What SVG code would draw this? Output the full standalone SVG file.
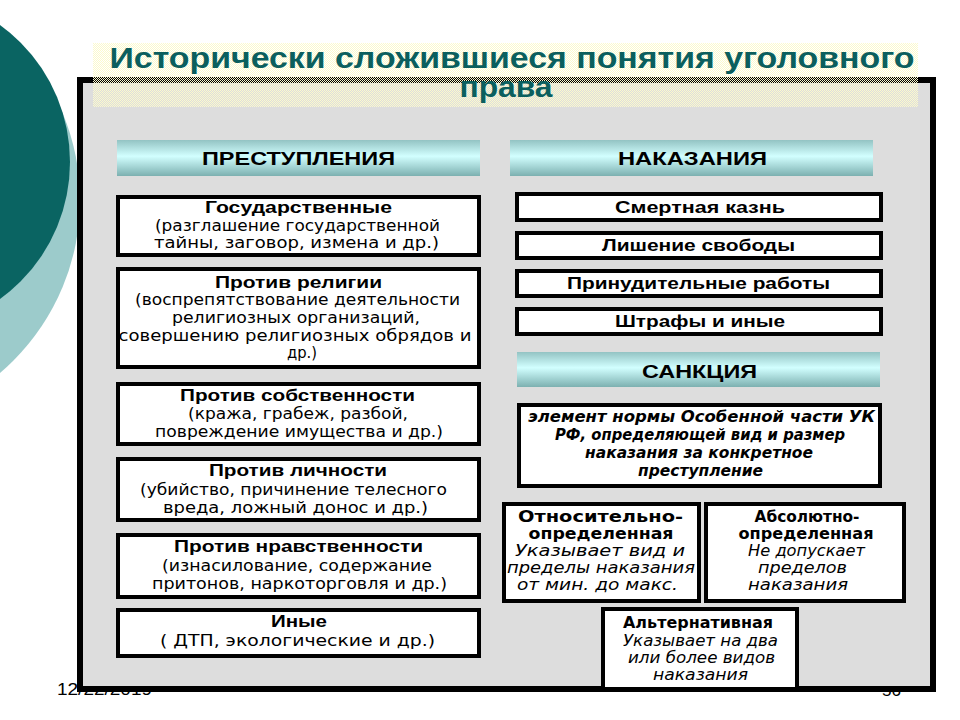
<svg xmlns="http://www.w3.org/2000/svg" width="960" height="720" viewBox="0 0 960 720">
<style>
.box{fill:#fff;stroke:#000;stroke-width:4}
.bar{fill:url(#barGrad)}
.h{font-family:"Liberation Sans",Arial,sans-serif;font-weight:900;font-size:18px;text-anchor:middle;fill:#000}
.t{font-family:"Liberation Sans",Arial,sans-serif;font-weight:bold;font-size:16px;text-anchor:middle;fill:#000}
.b{font-family:"DejaVu Sans",Verdana,sans-serif;font-size:15px;text-anchor:middle;fill:#000}
.bi{font-family:"DejaVu Sans",Verdana,sans-serif;font-size:15px;font-style:italic;text-anchor:middle;fill:#000}
.bbi{font-family:"DejaVu Sans",Verdana,sans-serif;font-size:15px;font-style:italic;font-weight:bold;text-anchor:middle;fill:#000}
.bb{font-family:"DejaVu Sans",Verdana,sans-serif;font-size:15px;font-weight:bold;text-anchor:middle;fill:#000}
.title{font-family:"Liberation Sans Narrow","Liberation Sans",Arial,sans-serif;font-weight:bold;font-size:30px;text-anchor:middle;fill:#0b5f5e}
.foot{font-family:"Liberation Sans Narrow","Liberation Sans",Arial,sans-serif;font-size:16px;fill:#000}
</style>
<defs>
<linearGradient id="barGrad" x1="0" y1="0" x2="0" y2="1">
<stop offset="0" stop-color="#93c3c3"/>
<stop offset="0.45" stop-color="#d2ffff"/>
<stop offset="1" stop-color="#7cb0b0"/>
</linearGradient>
<pattern id="check" width="2" height="2" patternUnits="userSpaceOnUse">
<rect x="0" y="0" width="1" height="1" fill="#fcfacc"/>
<rect x="1" y="1" width="1" height="1" fill="#fcfacc"/>
</pattern>
</defs>
<rect width="960" height="720" fill="#fff"/>
<g id="decor">
<circle cx="-147" cy="200" r="227" fill="#9ccbcb"/>
<circle cx="-99" cy="162" r="169" fill="#0a6462"/>
</g>
<text class="foot" x="57" y="695" textLength="95" lengthAdjust="spacingAndGlyphs">12/22/2019</text>
<text class="foot" x="882" y="696" textLength="19" lengthAdjust="spacingAndGlyphs">56</text>
<g id="frame">
<rect x="80" y="80" width="853" height="609" fill="#dddddd" stroke="#000" stroke-width="6"/>
</g>
<g id="title">
<rect x="93" y="43" width="825" height="64" fill="url(#check)"/>
<text class="title" x="512" y="68" textLength="805" lengthAdjust="spacingAndGlyphs">Исторически сложившиеся понятия уголовного</text>
<text class="title" x="506" y="97" textLength="93" lengthAdjust="spacingAndGlyphs">права</text>
</g>
<g id="connectors"></g>
<g id="crimes-header">
<rect class="bar" x="117" y="140" width="363" height="36"/>
<text class="h" x="298.5" y="165" textLength="193" lengthAdjust="spacingAndGlyphs">ПРЕСТУПЛЕНИЯ</text>
</g>
<g id="crime-state">
<rect class="box" x="118" y="197" width="361" height="58"/>
<text class="t" x="298.5" y="213" textLength="187" lengthAdjust="spacingAndGlyphs">Государственные</text>
<text class="b" x="297.5" y="231" textLength="285" lengthAdjust="spacingAndGlyphs">(разглашение государственной</text>
<text class="b" x="296.5" y="248" textLength="285" lengthAdjust="spacingAndGlyphs">тайны, заговор, измена и др.)</text>
</g>
<g id="crime-religion">
<rect class="box" x="118" y="269" width="361" height="98"/>
<text class="t" x="298.5" y="288" textLength="167" lengthAdjust="spacingAndGlyphs">Против религии</text>
<text class="b" x="297.5" y="305" textLength="325" lengthAdjust="spacingAndGlyphs">(воспрепятствование деятельности</text>
<text class="b" x="296" y="323" textLength="248" lengthAdjust="spacingAndGlyphs">религиозных организаций,</text>
<text class="b" x="295" y="341" textLength="353" lengthAdjust="spacingAndGlyphs">совершению религиозных обрядов и</text>
<text class="b" x="302" y="358" textLength="30" lengthAdjust="spacingAndGlyphs">др.)</text>
</g>
<g id="crime-property">
<rect class="box" x="118" y="384" width="361" height="60"/>
<text class="t" x="297.5" y="401" textLength="235" lengthAdjust="spacingAndGlyphs">Против собственности</text>
<text class="b" x="298" y="419" textLength="220" lengthAdjust="spacingAndGlyphs">(кража, грабеж, разбой,</text>
<text class="b" x="299" y="437" textLength="288" lengthAdjust="spacingAndGlyphs">повреждение имущества и др.)</text>
</g>
<g id="crime-person">
<rect class="box" x="118" y="459" width="361" height="61"/>
<text class="t" x="298" y="476" textLength="178" lengthAdjust="spacingAndGlyphs">Против личности</text>
<text class="b" x="293.5" y="495" textLength="307" lengthAdjust="spacingAndGlyphs">(убийство, причинение телесного</text>
<text class="b" x="295.5" y="513" textLength="265" lengthAdjust="spacingAndGlyphs">вреда, ложный донос и др.)</text>
</g>
<g id="crime-morality">
<rect class="box" x="118" y="535" width="361" height="62"/>
<text class="t" x="298.5" y="552" textLength="249" lengthAdjust="spacingAndGlyphs">Против нравственности</text>
<text class="b" x="297" y="571" textLength="270" lengthAdjust="spacingAndGlyphs">(изнасилование, содержание</text>
<text class="b" x="299.5" y="589" textLength="295" lengthAdjust="spacingAndGlyphs">притонов, наркоторговля и др.)</text>
</g>
<g id="crime-other">
<rect class="box" x="118" y="610" width="361" height="46"/>
<text class="t" x="299" y="627" textLength="56" lengthAdjust="spacingAndGlyphs">Иные</text>
<text class="b" x="297.5" y="646" textLength="275" lengthAdjust="spacingAndGlyphs">( ДТП, экологические и др.)</text>
</g>
<g id="punish-header">
<rect class="bar" x="510" y="140" width="363" height="36"/>
<text class="h" x="692.5" y="165" textLength="149" lengthAdjust="spacingAndGlyphs">НАКАЗАНИЯ</text>
</g>
<g id="punish-death">
<rect class="box" x="517" y="194" width="364" height="26"/>
<text class="t" x="700" y="213" textLength="170" lengthAdjust="spacingAndGlyphs">Смертная казнь</text>
</g>
<g id="punish-prison">
<rect class="box" x="517" y="233" width="364" height="25"/>
<text class="t" x="698.5" y="251" textLength="193" lengthAdjust="spacingAndGlyphs">Лишение свободы</text>
</g>
<g id="punish-labour">
<rect class="box" x="517" y="271" width="364" height="25"/>
<text class="t" x="698.5" y="289" textLength="263" lengthAdjust="spacingAndGlyphs">Принудительные работы</text>
</g>
<g id="punish-fines">
<rect class="box" x="517" y="309" width="364" height="25"/>
<text class="t" x="700" y="327" textLength="170" lengthAdjust="spacingAndGlyphs">Штрафы и иные</text>
</g>
<g id="sanction-header">
<rect class="bar" x="517" y="352" width="363" height="35"/>
<text class="h" x="699.5" y="378" textLength="115" lengthAdjust="spacingAndGlyphs">САНКЦИЯ</text>
</g>
<g id="sanction-def">
<rect class="box" x="519" y="405" width="361" height="81"/>
<text class="bbi" x="701.5" y="422" textLength="347" lengthAdjust="spacingAndGlyphs">элемент нормы Особенной части УК</text>
<text class="bbi" x="700" y="440" textLength="290" lengthAdjust="spacingAndGlyphs">РФ, определяющей вид и размер</text>
<text class="bbi" x="699" y="458" textLength="228" lengthAdjust="spacingAndGlyphs">наказания за конкретное</text>
<text class="bbi" x="700.5" y="476" textLength="125" lengthAdjust="spacingAndGlyphs">преступление</text>
</g>
<g id="sanction-relative">
<rect class="box" x="504" y="504" width="195" height="97"/>
<text class="bb" x="600.5" y="522" textLength="165" lengthAdjust="spacingAndGlyphs">Относительно-</text>
<text class="bb" x="601" y="539" textLength="145" lengthAdjust="spacingAndGlyphs">определенная</text>
<text class="bi" x="600" y="556" textLength="170" lengthAdjust="spacingAndGlyphs">Указывает вид и</text>
<text class="bi" x="601" y="573" textLength="188" lengthAdjust="spacingAndGlyphs">пределы наказания</text>
<text class="bi" x="597.5" y="590" textLength="161" lengthAdjust="spacingAndGlyphs">от мин. до макс.</text>
</g>
<g id="sanction-absolute">
<rect class="box" x="706" y="504" width="198" height="97"/>
<text class="bb" x="807" y="522" textLength="105" lengthAdjust="spacingAndGlyphs">Абсолютно-</text>
<text class="bb" x="806" y="539" textLength="135" lengthAdjust="spacingAndGlyphs">определенная</text>
<text class="bi" x="806.5" y="556" textLength="117" lengthAdjust="spacingAndGlyphs">Не допускает</text>
<text class="bi" x="802.5" y="573" textLength="89" lengthAdjust="spacingAndGlyphs">пределов</text>
<text class="bi" x="798" y="590" textLength="100" lengthAdjust="spacingAndGlyphs">наказания</text>
</g>
<g id="sanction-alternative">
<rect class="box" x="603" y="609" width="194" height="80"/>
<text class="bb" x="698" y="628" textLength="150" lengthAdjust="spacingAndGlyphs">Альтернативная</text>
<text class="bi" x="700.5" y="646" textLength="155" lengthAdjust="spacingAndGlyphs">Указывает на два</text>
<text class="bi" x="701.5" y="663" textLength="147" lengthAdjust="spacingAndGlyphs">или более видов</text>
<text class="bi" x="700.5" y="680" textLength="95" lengthAdjust="spacingAndGlyphs">наказания</text>
</g>
</svg>
